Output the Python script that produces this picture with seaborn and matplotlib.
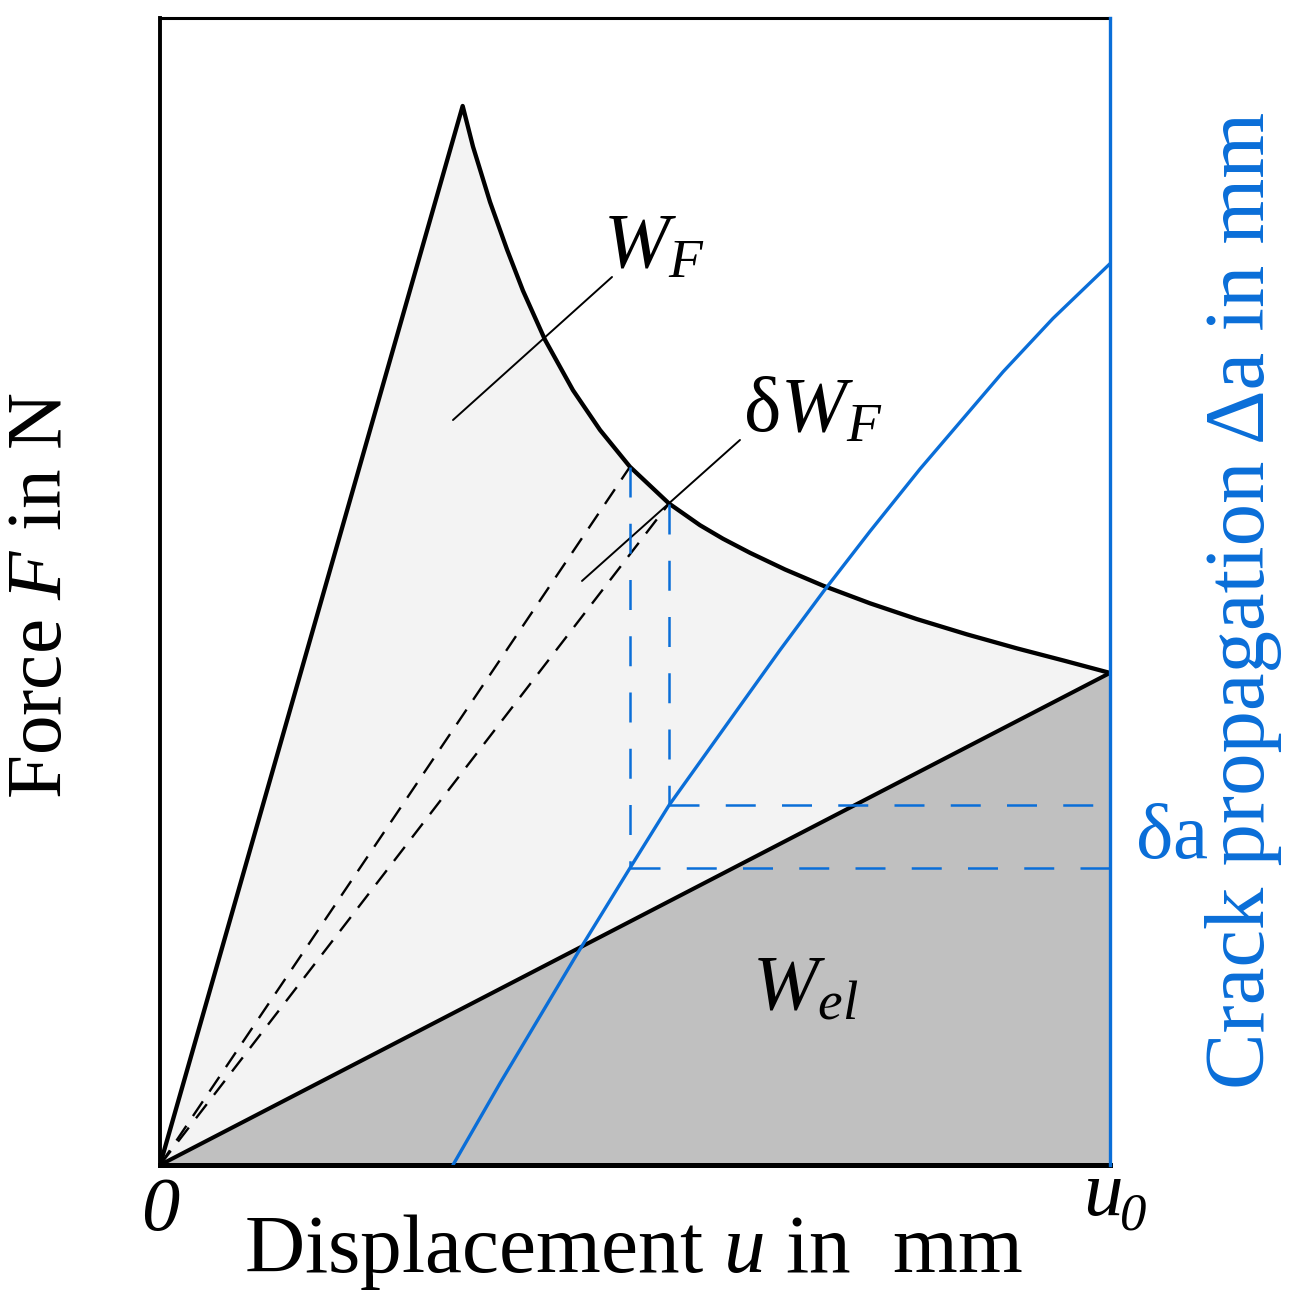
import numpy as np
import pandas as pd
import matplotlib
matplotlib.use("Agg")
import matplotlib.pyplot as plt
import seaborn as sns

# ---------------- data (normalised: u0 = 1) ----------------
# loading branch (origin -> peak)
u_load = [0.0, 0.3186]
F_load = [0.0, 0.9233]
# softening branch (peak -> u0)
u_soft = [0.3186, 0.3295, 0.3474, 0.3653, 0.3821, 0.4053, 0.4347, 0.4632, 0.4947,
          0.5358, 0.5684, 0.5926, 0.6211, 0.6579, 0.6979, 0.7474, 0.7968, 0.8495,
          0.9021, 0.9526, 1.0]
F_soft = [0.9233, 0.8878, 0.8396, 0.7981, 0.7622, 0.7194, 0.6755, 0.6408, 0.6087,
          0.5767, 0.5578, 0.5460, 0.5337, 0.5192, 0.5051, 0.4897, 0.4759, 0.4626,
          0.4504, 0.4395, 0.4290]
# unloading line at u0 (elastic energy boundary)
u_unload = [0.0, 1.0]
F_unload = [0.0, 0.4290]
# two secant states (dashed)
u_sec = [0.4947, 0.5358]
F_sec = [0.6087, 0.5767]
# crack propagation curve (right axis)
u_crack = [0.3084, 0.3579, 0.4400, 0.4947, 0.5358, 0.6105, 0.6526, 0.6989,
           0.7474, 0.8000, 0.8874, 0.9400, 1.0]
a_crack = [0.0, 0.0713, 0.1853, 0.2589, 0.3136, 0.4002, 0.4489, 0.5006,
           0.5525, 0.6068, 0.6915, 0.7381, 0.7858]
a_sec = [0.2589, 0.3136]
x_ticks = [0.0, 1.0]

BLUE = "#0a6ed8"
LIGHT = "#f3f3f3"
DARK = "#c0c0c0"

sns.set_theme(style="white")
plt.rcParams["font.family"] = ["Liberation Serif", "DejaVu Serif"]
plt.rcParams["mathtext.fontset"] = "custom"
plt.rcParams["mathtext.rm"] = "Liberation Serif"
plt.rcParams["mathtext.it"] = "Liberation Serif:italic"
plt.rcParams["mathtext.bf"] = "Liberation Serif:bold"
plt.rcParams["text.color"] = "black"

W, H = 1311, 1314
fig = plt.figure(figsize=(W / 100, H / 100), dpi=100)
ax = fig.add_axes([160 / W, (H - 1165) / H, 950 / W, 1147 / H])
ax.set_xlim(0, 1)
ax.set_ylim(0, 1)

# fills
env_u = u_load + u_soft[1:]
env_F = F_load + F_soft[1:]
ax.fill(env_u, env_F, color=LIGHT, zorder=1, lw=0)
ax.fill_between(u_unload, [0, 0], F_unload, color=DARK, zorder=1.5, lw=0)

def line(x, y, a, **kw):
    df = pd.DataFrame({"x": x, "y": y})
    sns.lineplot(data=df, x="x", y="y", ax=a, sort=False, estimator=None,
                 legend=False, **kw)

line(env_u, env_F, ax, color="black", lw=3.1, zorder=4)
line(u_unload, F_unload, ax, color="black", lw=2.9, zorder=4)
for us, Fs in zip(u_sec, F_sec):
    ax.plot([0, us], [0, Fs], color="black", lw=1.7, zorder=3, dashes=(7.5, 5))

# leader lines
ax.plot([0.3084, 0.4758], [0.6495, 0.7742], color="black", lw=1.4, zorder=5)
ax.plot([0.4442, 0.6105], [0.5092, 0.6321], color="black", lw=1.4, zorder=5)

# texts
fs = 57
ax.text(0.4660, 0.7829, r"$W_F$", fontsize=fs, ha="left", va="baseline", zorder=6)
ax.text(0.6140, 0.6399, r"$\mathrm{\delta}W_F$", fontsize=fs, ha="left", va="baseline", zorder=6)
ax.text(0.6232, 0.1351, r"$W_{el}$", fontsize=fs, ha="left", va="baseline", zorder=6)

# twin axis for crack propagation
ax2 = ax.twinx()
ax2.set_ylim(0, 1)
ax2.set_xlim(0, 1)
line(u_crack, a_crack, ax2, color=BLUE, lw=2.4, zorder=4)
for us, Fs, av in zip(u_sec, F_sec, a_sec):
    ax2.plot([us, us], [Fs, av], color=BLUE, lw=1.8, dashes=(12, 10.5), zorder=3)
    ax2.plot([us, 1.0], [av, av], color=BLUE, lw=1.8, dashes=(12, 10.5), zorder=3)
ax2.text(1.0260, 0.2677, r"$\mathrm{\delta a}$", fontsize=fs, color=BLUE,
         ha="left", va="baseline", clip_on=False)

# axes styling
ax.set_xticks(x_ticks)
ax.set_xticklabels(["", ""])
ax.tick_params(axis="x", length=0)
ax.set_yticks([])
ax2.set_yticks([])
ax.set_xlabel("")
ax.set_ylabel("")
ax2.set_ylabel("")
# tick labels 0 and u0 (italic)
trans = ax.get_xaxis_transform()
ax.text(x_ticks[0], -(1230 - 1165) / 1147, "0", fontsize=55, fontstyle="italic",
        ha="center", va="baseline", transform=trans, clip_on=False)
ax.text(x_ticks[1] - 0.008, -(1215 - 1165) / 1147, "u", fontsize=57, fontstyle="italic",
        ha="center", va="baseline", transform=trans, clip_on=False)
ax.text(x_ticks[1] + 0.024, -(1230 - 1165) / 1147, "0", fontsize=38, fontstyle="italic",
        ha="center", va="baseline", transform=trans, clip_on=False)

for a in (ax, ax2):
    for s in a.spines.values():
        s.set_visible(True)
ax.spines["left"].set_color("black"); ax.spines["left"].set_linewidth(2.8)
ax.spines["bottom"].set_color("black"); ax.spines["bottom"].set_linewidth(3.6)
ax.spines["top"].set_color("black"); ax.spines["top"].set_linewidth(2.2)
ax.spines["right"].set_visible(False)
ax2.spines["left"].set_visible(False)
ax2.spines["bottom"].set_visible(False)
ax2.spines["top"].set_visible(False)
ax2.spines["right"].set_color(BLUE); ax2.spines["right"].set_linewidth(2.4)
ax2.spines["right"].set_zorder(10)

# axis titles
fig.text(633 / W, (H - 1272) / H, r"Displacement $u$ in  mm", fontsize=60,
         ha="center", va="baseline")
fig.text(42 / W, (H - 596) / H, r"Force $F$ in N", fontsize=57, rotation=90,
         ha="center", va="center")
fig.text(1243 / W, (H - 600) / H, "Crack propagation Δa in mm", fontsize=61,
         rotation=90, ha="center", va="center", color=BLUE)

fig.savefig("out.png", dpi=100)
